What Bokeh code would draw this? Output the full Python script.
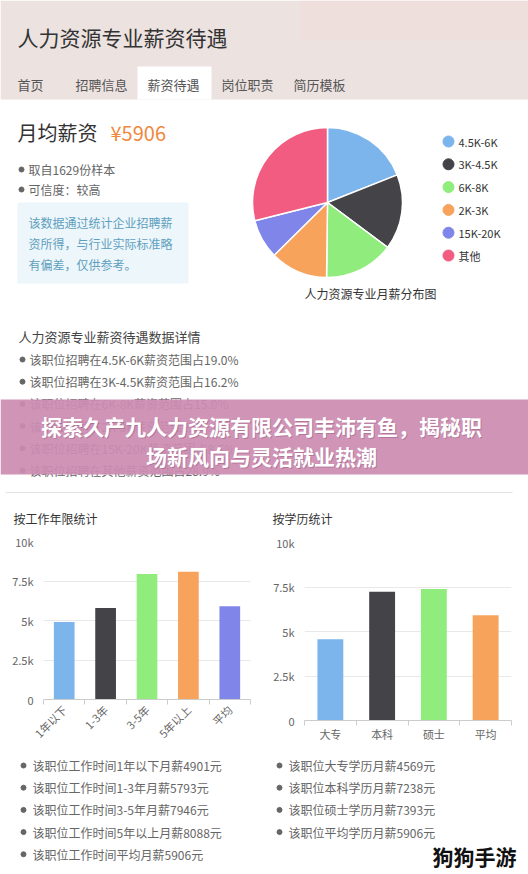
import math
import numpy as np
from bokeh.plotting import figure
from bokeh.layouts import column, row
from bokeh.models import Range1d, FixedTicker
from bokeh.core.properties import value
from bokeh.embed import file_html
from bokeh.resources import INLINE

FONT = "Noto Sans CJK SC"

# ---------------- data ----------------
page_title = "人力资源专业薪资待遇"
tabs = ["首页", "招聘信息", "薪资待遇", "岗位职责", "简历模板"]
sample_count = 1629
credibility = "较高"
note_lines = ["该数据通过统计企业招聘薪", "资所得，与行业实际标准略", "有偏差，仅供参考。"]
pie_title = "人力资源专业月薪分布图"
pie_labels = ["4.5K-6K", "3K-4.5K", "6K-8K", "2K-3K", "15K-20K", "其他"]
pie_shares = [19.0, 16.2, 15.0, 12.4, 8.5, 28.9]
exp_categories = ["1年以下", "1-3年", "3-5年", "5年以上", "平均"]
exp_salary = [4901, 5793, 7946, 8088, 5906]
edu_categories = ["大专", "本科", "硕士", "平均"]
edu_salary = [4569, 7238, 7393, 5906]
y_ticks = [0, 2500, 5000, 7500, 10000]
y_tick_labels = ["0", "2.5k", "5k", "7.5k", "10k"]
palette = ["#7cb5ec", "#434348", "#90ed7d", "#f7a35c", "#8085e9", "#f15c80"]
banner_lines = ["探索久产九人力资源有限公司丰沛有鱼，揭秘职", "场新风向与灵活就业热潮"]
watermark = "狗狗手游"


def txt(p, xs, ys, texts, size, color, align="left", weight="normal", alpha=1.0):
    p.text(x=xs, y=ys, text=texts, text_font=value(FONT), text_font_size=f"{size}px",
           text_color=color, text_align=align, text_baseline="middle",
           text_font_style=weight, text_alpha=alpha)


def canvas(height, y_top, y_bottom):
    p = figure(width=528, height=height, x_range=Range1d(0, 528), y_range=Range1d(y_bottom, y_top),
               x_axis_type=None, y_axis_type=None, toolbar_location=None, output_backend="svg",
               min_border=0, outline_line_color=None, background_fill_color="white",
               border_fill_color="white")
    p.xgrid.visible = False
    p.ygrid.visible = False
    return p


# ---------------- main canvas (header, summary, pie, details) ----------------
c = canvas(530, 0, 530)

# header band
c.quad(left=0, right=528, top=0, bottom=99, fill_color="#ece2e0", line_color=None)
c.quad(left=300, right=528, top=0, bottom=40, fill_color="#f0dcd8", line_color=None, fill_alpha=0.5)
c.quad(left=137, right=211, top=66, bottom=99, fill_color="white", line_color=None)
txt(c, [17], [36], [page_title], 21, "#333333")
tab_x = [17, 75, 147, 221, 293]
txt(c, tab_x, [84] * len(tabs), tabs, 13, "#555555")

# summary
txt(c, [17], [132], ["月均薪资"], 20, "#333333")
txt(c, [110], [132], [f"¥{exp_salary[-1]}"], 20, "#f0883e")
c.scatter(x=[21, 21], y=[169, 189], size=5, color="#666666")
txt(c, [28, 28], [169, 189], [f"取自{sample_count}份样本", f"可信度：{credibility}"], 12, "#666666")
c.quad(left=17, right=188, top=202, bottom=283, fill_color="#edf6fa", line_color=None)
txt(c, [28] * 3, [222, 243, 264], note_lines, 12, "#5e9fc0")

# pie
shares = np.array(pie_shares) / sum(pie_shares)
cum = np.concatenate([[0.0], np.cumsum(shares)])
start = np.pi / 2 - 2 * np.pi * cum[1:]
end = np.pi / 2 - 2 * np.pi * cum[:-1]
c.wedge(x=327, y=202, radius=75, radius_units="screen", start_angle=start, end_angle=end,
        fill_color=palette, line_color="white", line_width=1.5)
txt(c, [370], [293], [pie_title], 12, "#333333", align="center")
leg_y = [141 + i * 22.8 for i in range(len(pie_labels))]
c.scatter(x=[448] * len(pie_labels), y=leg_y, size=11, color=palette)
txt(c, [458] * len(pie_labels), leg_y, pie_labels, 11, "#333333")

# details
txt(c, [18], [336], ["人力资源专业薪资待遇数据详情"], 13, "#444444")
det_y = [359 + i * 22.2 for i in range(len(pie_labels))]
det_text = [f"该职位招聘在{lab}薪资范围占{s:.1f}%" for lab, s in zip(pie_labels, pie_shares)]
c.scatter(x=[22] * len(det_y), y=det_y, size=5, color="#666666")
txt(c, [29] * len(det_y), det_y, det_text, 12, "#666666")

# banner
c.quad(left=0, right=528, top=399, bottom=474, fill_color="#cc8cb1", fill_alpha=0.93, line_color=None)
txt(c, [262, 262], [426, 456], banner_lines, 21, "#7a3f63", align="center", weight="bold", alpha=0.35)
txt(c, [261, 261], [425, 455], banner_lines, 21, "white", align="center", weight="bold")

# divider
c.segment(x0=[5], y0=[492], x1=[512], y1=[492], line_color="#e3e3e3", line_width=1)

# chart titles
txt(c, [13, 272], [518, 518], ["按工作年限统计", "按学历统计"], 12, "#333333")


# ---------------- bar charts ----------------
def bar_chart(cats, vals, height, mb_left, mb_right, mb_top, mb_bottom, rotate):
    n = len(cats)
    p = figure(width=264, height=height, x_range=Range1d(0, n), y_range=Range1d(0, 10000),
               toolbar_location=None, output_backend="svg",
               min_border_left=mb_left, min_border_right=mb_right,
               min_border_top=mb_top, min_border_bottom=mb_bottom,
               outline_line_color=None, background_fill_color="white", border_fill_color="white")
    xs = [i + 0.5 for i in range(n)]
    p.vbar(x=xs, top=vals, width=0.5, fill_color=palette[:n], line_color=None)

    xa = p.xaxis[0]
    xa.ticker = FixedTicker(ticks=xs, minor_ticks=list(range(n + 1)))
    xa.major_label_overrides = {x: cat for x, cat in zip(xs, cats)}
    xa.major_tick_line_color = None
    xa.major_tick_out = 0
    xa.major_tick_in = 0
    xa.minor_tick_line_color = "#cccccc"
    xa.minor_tick_out = 5
    xa.minor_tick_in = 0
    xa.axis_line_color = "#cccccc"
    xa.major_label_text_font = FONT
    xa.major_label_text_font_size = "11px"
    xa.major_label_text_color = "#666666"
    if rotate:
        xa.major_label_orientation = math.pi / 4
        xa.major_label_standoff = 3
    else:
        xa.major_label_orientation = "horizontal"
        xa.major_label_standoff = 0

    ya = p.yaxis[0]
    ya.ticker = FixedTicker(ticks=y_ticks)
    ya.major_label_overrides = {t: lab for t, lab in zip(y_ticks, y_tick_labels)}
    ya.axis_line_color = None
    ya.major_tick_line_color = None
    ya.minor_tick_line_color = None
    ya.major_tick_out = 0
    ya.major_label_standoff = 10
    ya.major_label_text_font = FONT
    ya.major_label_text_font_size = "11px"
    ya.major_label_text_color = "#666666"

    p.xgrid.visible = False
    p.ygrid.grid_line_color = "#e8e8e8"
    return p


b1 = bar_chart(exp_categories, exp_salary, 220, 43, 14, 11, 51, True)
b2 = bar_chart(edu_categories, edu_salary, 215, 40, 17, 12, 25, False)

# ---------------- bottom bullets ----------------
bt = canvas(124, 750, 874)
left_y = [765 + i * 22.2 for i in range(len(exp_categories))]
left_text = [f"该职位工作时间{cat}月薪{v}元" for cat, v in zip(exp_categories, exp_salary)]
bt.scatter(x=[23] * len(left_y), y=left_y, size=5, color="#666666")
txt(bt, [32] * len(left_y), left_y, left_text, 12, "#666666")
right_y = [765 + i * 22.2 for i in range(len(edu_categories))]
right_text = [f"该职位{cat}学历月薪{v}元" for cat, v in zip(edu_categories, edu_salary)]
bt.scatter(x=[279] * len(right_y), y=right_y, size=5, color="#666666")
txt(bt, [288] * len(right_y), right_y, right_text, 12, "#666666")
txt(bt, [474], [855], [watermark], 21, "#111111", align="center", weight="bold")

layout = column(c, row(column(b1), column(b2)), bt)
open("out.html", "w").write(file_html(layout, INLINE))
